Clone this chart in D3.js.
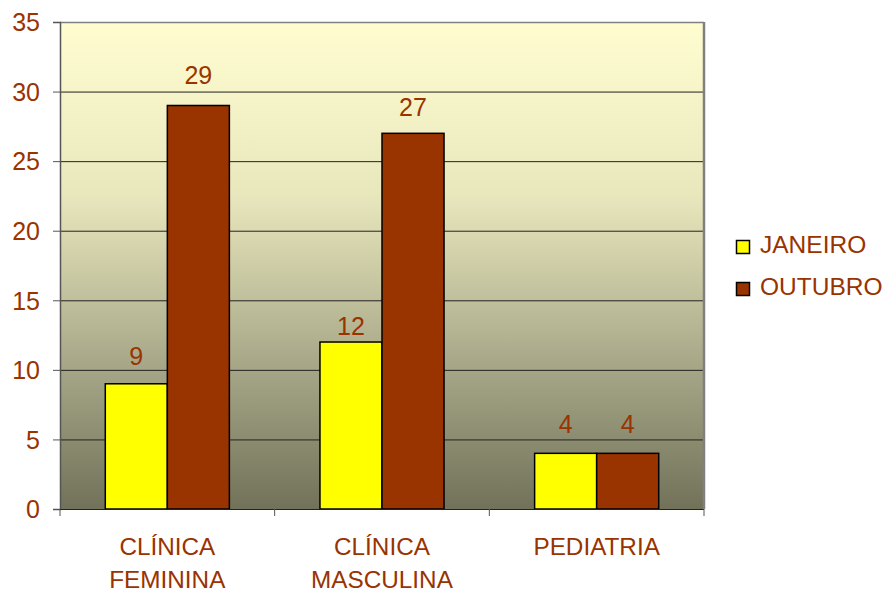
<!DOCTYPE html>
<html>
<head>
<meta charset="utf-8">
<script src="https://cdn.jsdelivr.net/npm/d3@7"></script>
<style>
  html, body { margin: 0; padding: 0; background: #fff; }
  svg { display: block; font-family: "Liberation Sans", Arial, sans-serif; }
</style>
</head>
<body>
<svg id="chart" width="888" height="593"></svg>
<script>
// Categories (two-line labels) and the two monthly series
const categories = [["CLÍNICA", "FEMININA"], ["CLÍNICA", "MASCULINA"], ["PEDIATRIA"]];
const seriesNames = ["JANEIRO", "OUTUBRO"];
const janeiro = [9, 12, 4];
const outubro = [29, 27, 4];
const yTicks = [0, 5, 10, 15, 20, 25, 30, 35];

const colors = ["#ffff00", "#993300"];
const textColor = "#993300";

const svg = d3.select("#chart");
const plot = { left: 60, top: 22, right: 704, bottom: 509 };

const keys = categories.map(c => c.join(" "));
const x = d3.scaleBand().domain(keys).range([plot.left, plot.right]);
const y = d3.scaleLinear().domain([0, 35]).range([plot.bottom, plot.top]);

// Background gradient of the plot area
const defs = svg.append("defs");
const grad = defs.append("linearGradient").attr("id", "bg").attr("x1", 0).attr("y1", 0).attr("x2", 0).attr("y2", 1);
grad.append("stop").attr("offset", "0%").attr("stop-color", "#fffdd0");
grad.append("stop").attr("offset", "35%").attr("stop-color", "#e9e8bd");
grad.append("stop").attr("offset", "70%").attr("stop-color", "#a8a889");
grad.append("stop").attr("offset", "100%").attr("stop-color", "#72725a");

svg.append("rect")
  .attr("x", plot.left).attr("y", plot.top)
  .attr("width", plot.right - plot.left).attr("height", plot.bottom - plot.top)
  .attr("fill", "url(#bg)");

// Horizontal gridlines
svg.append("g").selectAll("line").data(yTicks.filter(d => d > 0 && d < 35)).join("line")
  .attr("x1", plot.left).attr("x2", plot.right)
  .attr("y1", d => y(d) + 0.5).attr("y2", d => y(d) + 0.5)
  .attr("stroke", "#222").attr("stroke-width", 1);

// Top and right border
svg.append("line").attr("x1", plot.left).attr("x2", plot.right)
  .attr("y1", plot.top + 0.5).attr("y2", plot.top + 0.5)
  .attr("stroke", "#808080").attr("stroke-width", 1.5);
svg.append("line").attr("x1", plot.right).attr("x2", plot.right)
  .attr("y1", plot.top).attr("y2", plot.bottom)
  .attr("stroke", "#808080").attr("stroke-width", 2.5);

// Bars
const inner = d3.scaleBand().domain(seriesNames).range([0, x.bandwidth() * 0.578]);
const groupOffset = (x.bandwidth() - x.bandwidth() * 0.578) / 2;
const seriesData = [janeiro, outubro];
// Gap between each value label's baseline and its bar top, per series
const labelGap = [[19, 7, 20], [21, 17, 20]];

seriesNames.forEach((name, si) => {
  const g = svg.append("g");
  g.selectAll("rect").data(seriesData[si]).join("rect")
    .attr("x", (d, i) => x(keys[i]) + groupOffset + inner(name))
    .attr("y", d => y(d))
    .attr("width", inner.bandwidth())
    .attr("height", d => y(0) - y(d))
    .attr("fill", colors[si])
    .attr("stroke", "#000").attr("stroke-width", 1.5);
  g.selectAll("text").data(seriesData[si]).join("text")
    .attr("x", (d, i) => x(keys[i]) + groupOffset + inner(name) + inner.bandwidth() / 2)
    .attr("y", (d, i) => y(d) - labelGap[si][i])
    .attr("text-anchor", "middle")
    .attr("font-size", 25)
    .attr("fill", textColor)
    .text(d => d);
});

// Y axis
const yAxis = svg.append("g").attr("transform", `translate(${plot.left},0)`)
  .call(d3.axisLeft(y).tickValues(yTicks).tickSize(7).tickPadding(13).tickFormat(d3.format("d")));
yAxis.select(".domain").attr("stroke", "#555").attr("stroke-width", 1.5);
yAxis.selectAll(".tick line").attr("stroke", "#555");
yAxis.selectAll(".tick text").attr("fill", textColor).attr("font-size", 25)
  .attr("font-family", "'Liberation Sans', Arial, sans-serif").attr("dy", "0.35em");

// X axis: baseline and boundary ticks
const xAxis = svg.append("g").attr("transform", `translate(0,${plot.bottom})`);
xAxis.append("line").attr("x1", plot.left).attr("x2", plot.right).attr("y1", 0.5).attr("y2", 0.5)
  .attr("stroke", "#222").attr("stroke-width", 1);
const boundaries = keys.map(k => x(k)).concat([x(keys[keys.length - 1]) + x.bandwidth()]);
xAxis.selectAll("line.tk").data(boundaries).join("line").attr("class", "tk")
  .attr("x1", d => d).attr("x2", d => d).attr("y1", 0).attr("y2", 7)
  .attr("stroke", "#555");

// Category labels
categories.forEach((lines, i) => {
  const cx = x(keys[i]) + x.bandwidth() / 2;
  const t = svg.append("text")
    .attr("x", cx)
    .attr("y", 555)
    .attr("text-anchor", "middle")
    .attr("font-size", 24.3)
    .attr("fill", textColor);
  lines.forEach((ln, li) => {
    t.append("tspan").attr("x", cx).attr("dy", li === 0 ? 0 : 33).text(ln);
  });
});

// Legend
const legend = svg.append("g").attr("transform", "translate(736,240)");
seriesNames.forEach((name, i) => {
  const row = legend.append("g").attr("transform", `translate(0,${i * 42})`);
  row.append("rect").attr("x", 0.5).attr("y", 0.5).attr("width", 13).attr("height", 13)
    .attr("fill", colors[i]).attr("stroke", "#000").attr("stroke-width", 1.5);
  row.append("text").attr("x", 24).attr("y", 13)
    .attr("font-size", 24.5).attr("fill", textColor).text(name);
});
</script>
</body>
</html>
